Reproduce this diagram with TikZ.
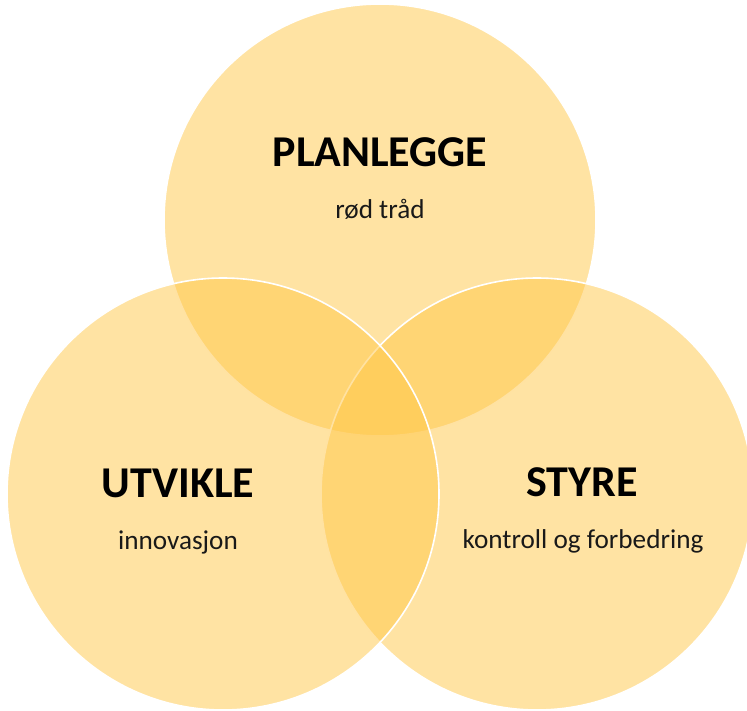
\documentclass[tikz,border=0pt]{standalone}
\usepackage{fontspec}
\setmainfont{Carlito}
\usepackage{tikz}
\usetikzlibrary{positioning}
\usepackage{xcolor}
\definecolor{vnyellow}{RGB}{255,199,71}
\definecolor{vntext}{RGB}{0,0,0}
\tikzstyle{venn} = [circle, minimum size=216pt, inner sep=0pt, draw=white, line width=0.8pt, fill=vnyellow, fill opacity=0.5, draw opacity=1]
\tikzstyle{title} = [anchor=base, font=\fontsize{22}{26}\selectfont\bfseries, text=vntext]
\tikzstyle{subtitle} = [anchor=base, font=\fontsize{13.6}{16}\selectfont, text=vntext!90]

\begin{document}
\begin{tikzpicture}[x=0.5pt, y=-0.5pt]
    \useasboundingbox (0,0) rectangle (747,710);

    % Circles
    \node[venn] (plan) at (380, 220) {};
    \node[venn] (styre) at (537, 494) {};
    \node[venn] (utvikle) at (223, 494) {};

    % Planlegge
    \node[title] (planT) at (380, 167) {PLANLEGGE};
    \node[subtitle] (planS) at (380, 219) {rød tråd};

    % Utvikle
    \node[title] (utvikleT) at (178, 497) {UTVIKLE};
    \node[subtitle] (utvikleS) at (178, 549) {innovasjon};

    % Styre
    \node[title] (styreT) at (582, 496) {STYRE};
    \node[subtitle] (styreS) at (583, 548) {kontroll og forbedring};
\end{tikzpicture}
\end{document}
